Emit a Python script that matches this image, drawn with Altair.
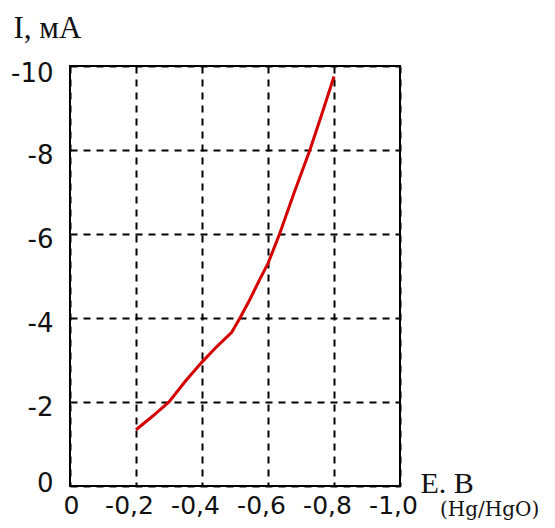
import altair as alt
import pandas as pd

# Data
E = [-0.20, -0.25, -0.30, -0.35, -0.40, -0.445, -0.49, -0.515, -0.545, -0.575, -0.60, -0.635, -0.68, -0.727, -0.765, -0.80]
I = [-1.34, -1.66, -2.00, -2.50, -2.95, -3.32, -3.66, -4.00, -4.44, -4.92, -5.30, -6.00, -7.00, -8.00, -8.90, -9.75]

x_ticks = [0, -0.2, -0.4, -0.6, -0.8, -1.0]
y_ticks = [0, -2, -4, -6, -8, -10]

x_title = "E. B"
y_title = "I, мА"
unit_label = ["(Hg/HgO)"]

df = pd.DataFrame({"E": E, "I": I})
units = pd.DataFrame({"t": unit_label})

MINUS = "\u2212"

x_axis = alt.Axis(
    values=x_ticks,
    labelExpr=(
        "datum.value == 0 ? '0' : "
        f"replace(replace(format(datum.value, '.1f'), '.', ','), '{MINUS}', '-')"
    ),
    labelFont="DejaVu Sans",
    labelFontSize=25,
    labelColor="#111111",
    labelPadding=7,
    labelOffset=alt.ExprRef(expr="datum.value == 0 ? 1 : -7"),
    labelOverlap=False,
    labelFlush=False,
    labelBaseline="top",
    ticks=False,
    domain=False,
    grid=True,
    gridColor="black",
    gridDash=[7, 6],
    gridWidth=2,
    title=x_title,
    titleFont="Liberation Serif",
    titleFontSize=30,
    titleFontWeight="normal",
    titleColor="#111111",
    titleAlign="left",
    titleBaseline="alphabetic",
    titleAngle=0,
    titleX=350,
    titleY=6,
)

y_axis = alt.Axis(
    values=y_ticks,
    labelExpr=f"replace(format(datum.value, 'd'), '{MINUS}', '-')",
    labelFont="DejaVu Sans",
    labelFontSize=26,
    labelColor="#111111",
    labelPadding=17,
    labelOverlap=False,
    labelFlush=False,
    labelOffset=alt.ExprRef(expr="datum.value == -10 ? 7 : (datum.value == 0 ? -3 : 5)"),
    ticks=False,
    domain=False,
    grid=True,
    gridColor="black",
    gridDash=[7, 6],
    gridWidth=2,
    title=y_title,
    titleFont="Liberation Serif",
    titleFontSize=31,
    titleFontWeight="normal",
    titleColor="#111111",
    titleAlign="left",
    titleBaseline="alphabetic",
    titleAngle=0,
    titleX=-57,
    titleY=-29,
)

line = alt.Chart(df).mark_line(color="#d40000", strokeWidth=3).encode(
    x=alt.X("E:Q", scale=alt.Scale(domain=[0, -1.0], nice=False, zero=False), axis=x_axis),
    y=alt.Y("I:Q", scale=alt.Scale(domain=[0, -10], nice=False, zero=False), axis=y_axis),
)

unit_text = alt.Chart(units).mark_text(
    align="left",
    baseline="alphabetic",
    font="DejaVu Serif",
    fontSize=20,
    color="#111111",
).encode(
    x=alt.value(370),
    y=alt.value(450),
    text="t:N",
)

chart = (
    alt.layer(line, unit_text)
    .properties(
        width=330,
        height=420,
        autosize=alt.AutoSizeParams(type="none"),
        padding={"left": 62, "top": 58, "right": 147, "bottom": 34},
        background="white",
    )
    .configure_view(stroke="black", strokeWidth=2)
)

chart.save("out.html", embed_options={"renderer": "svg", "actions": False})
